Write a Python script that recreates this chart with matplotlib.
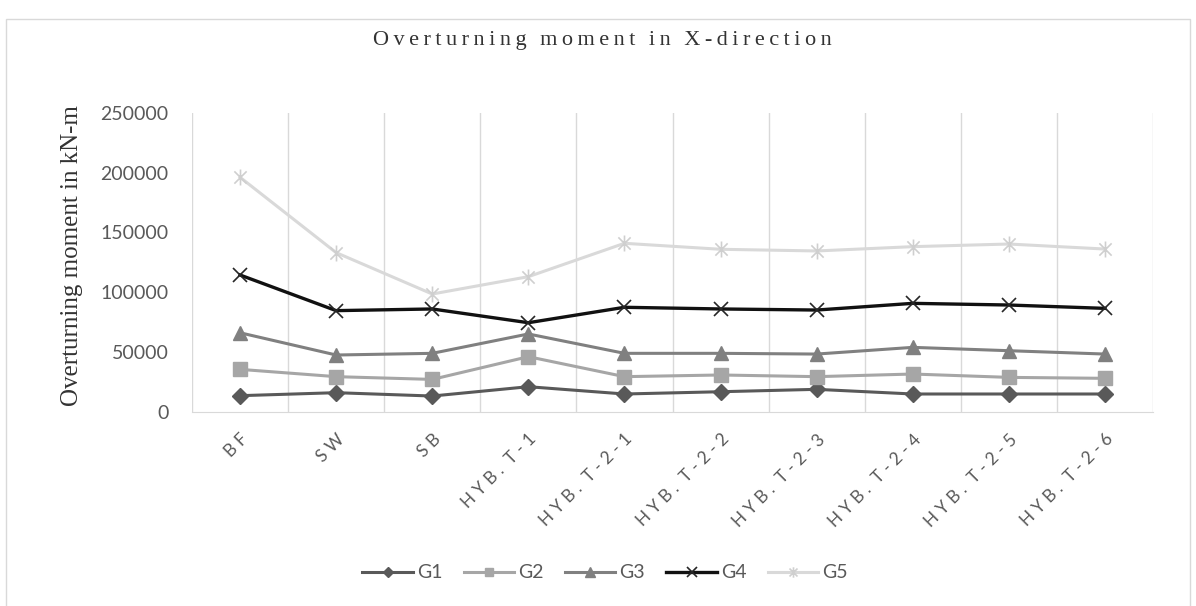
import matplotlib
matplotlib.use("Agg")
import matplotlib.pyplot as plt
from matplotlib.path import Path
from matplotlib.patches import Rectangle
from matplotlib.lines import Line2D
import numpy as np

categories = ["BF", "SW", "SB", "HYB. T-1", "HYB. T-2-1", "HYB. T-2-2",
              "HYB. T-2-3", "HYB. T-2-4", "HYB. T-2-5", "HYB. T-2-6"]
G1 = [13400, 15900, 13100, 20900, 14800, 16700, 18700, 14800, 14800, 14800]
G2 = [35400, 29300, 27000, 46000, 29300, 30700, 29300, 31500, 28700, 27900]
G3 = [66000, 47400, 48800, 65000, 48800, 48800, 48200, 53800, 51000, 48200]
G4 = [114300, 84500, 85900, 74400, 87300, 85900, 85000, 90600, 89200, 86400]
G5 = [196000, 133000, 98400, 112900, 140800, 135800, 134400, 138000, 140200, 136000]
series_names = ["G1", "G2", "G3", "G4", "G5"]
yticks = [0, 50000, 100000, 150000, 200000, 250000]

title = "Overturning moment in X-direction"
ylabel = "Overturning moment in kN-m"

star = Path([(-1, -1), (1, 1), (-1, 1), (1, -1), (0, -1.3), (0, 1.3)],
            [Path.MOVETO, Path.LINETO, Path.MOVETO, Path.LINETO, Path.MOVETO, Path.LINETO])

styles = [
    dict(color="#595959", marker="D", ms=8, lw=2.2, mec="#595959"),
    dict(color="#a6a6a6", marker="s", ms=9.5, lw=2.2, mec="#a6a6a6"),
    dict(color="#808080", marker="^", ms=10, lw=2.2, mec="#808080"),
    dict(color="#111111", marker="x", ms=10, lw=2.4, mew=1.2, mec="#262626"),
    dict(color="#d9d9d9", marker=star, ms=11.5, lw=2.2, mew=1.2, mec="#cfcfcf"),
]

W, H = 1196, 606
fig = plt.figure(figsize=(W / 100, H / 100), dpi=100)
fig.patch.set_facecolor("white")
fig.patches.append(Rectangle((6 / W, -0.01), (1190 - 6) / W, 1 - 19 / H + 0.01,
                             transform=fig.transFigure, fill=False,
                             edgecolor="#d9d9d9", lw=1.0))

ax = fig.add_axes([192 / W, 1 - 411.7 / H, (1153 - 192) / W, (411.7 - 112.7) / H])
x = np.arange(len(categories))
for name, vals, st in zip(series_names, [G1, G2, G3, G4, G5], styles):
    ax.plot(x, vals, label=name, solid_joinstyle="round", **st)

ax.set_xlim(-0.5, len(categories) - 0.5)
ax.set_ylim(0, 250000)
ax.set_yticks(yticks)
ax.set_yticklabels([str(v) for v in yticks])
ax.set_xticks(x)
ax.set_xticklabels([" ".join(c).replace("   ", "  ") for c in categories], rotation=45,
                   ha="right", va="top", rotation_mode="anchor")
ax.set_xticks(np.arange(-0.5, len(categories)), minor=True)
ax.grid(True, which="minor", axis="x", color="#d9d9d9", lw=1.0)
ax.grid(False, which="major")
for s in ["top", "right", "left"]:
    ax.spines[s].set_visible(False)
ax.spines["bottom"].set_color("#d9d9d9")
ax.tick_params(axis="both", which="both", length=0)
ax.tick_params(axis="y", pad=17, labelsize=14, labelcolor="#595959")
ax.tick_params(axis="x", pad=14, labelsize=12.5, labelcolor="#595959")
for lab in ax.get_xticklabels() + ax.get_yticklabels():
    lab.set_fontfamily("Lato")

thin = "\u2009"
spaced_title = (thin * 3).join(thin.join(w) for w in title.split(" "))
fig.text(602 / W, 1 - 41 / H, spaced_title, ha="center", va="center",
         fontsize=16, family=["Liberation Serif", "DejaVu Serif"], color="#333333")
fig.text(72 / W, 1 - 256 / H, ylabel, ha="center", va="center", rotation=90,
         fontsize=18, family="Liberation Serif", color="#333333")

handles = [Line2D([], [], color=st["color"], marker=st["marker"], lw=st["lw"],
                  ms=st["ms"] * 0.65, mec=st["mec"], mew=st.get("mew", 1.0))
           for st in styles]
leg = fig.legend(handles, series_names, loc="center", bbox_to_anchor=(605 / W, 1 - 573 / H),
                 ncol=5, frameon=False, handlelength=2.6, handletextpad=0.2,
                 columnspacing=1.1, prop={"family": "Lato", "size": 14})
for t in leg.get_texts():
    t.set_color("#595959")

fig.savefig("out.png", dpi=100, facecolor="white")
